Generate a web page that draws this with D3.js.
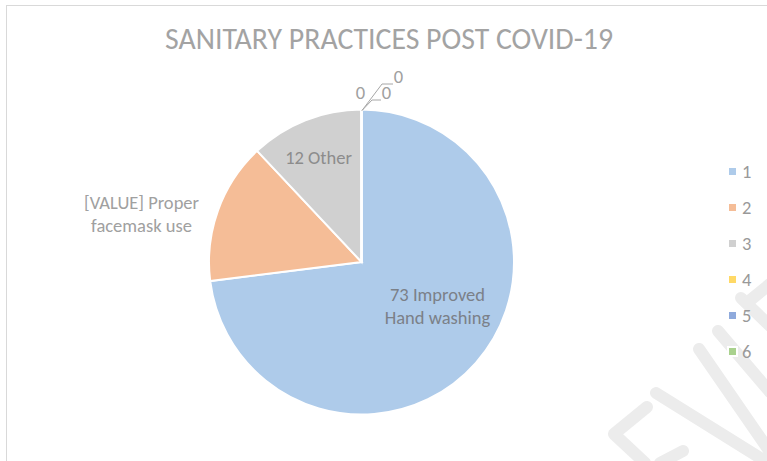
<!DOCTYPE html>
<html lang="en">
<head>
    <meta charset="utf-8">
    <title>Sanitary practices post COVID-19</title>
    <script src="https://cdn.jsdelivr.net/npm/d3@7"></script>
</head>
<style>
    body {
        margin: 0;
        background: #fff;
    }
    svg {
        position: absolute;
        left: 0;
        top: 0;
        font-family: Carlito, Calibri, Lato, sans-serif;
    }
    .watermark {
        stroke: #ececec;
        stroke-width: 12px;
        stroke-linecap: round;
        fill: none;
    }
</style>
<body>
<script type="text/javascript">

    // data
    var categories = ['1', '2', '3', '4', '5', '6'];
    var values = [73, 15, 12, 0, 0, 0];
    var sliceLabels = [
        ['73 Improved', 'Hand washing'],
        ['[VALUE] Proper', 'facemask use'],
        ['12 Other'],
        ['0'], ['0'], ['0']
    ];
    var colorList = ['#aecbea', '#f5bd97', '#d0d0d0', '#ffd966', '#8faadc', '#a9d18e'];

    var width = 767, height = 461;
    var cx = 361.5, cy = 262, radius = 152.5;

    var svg = d3.select('body').append('svg')
        .attr('width', width)
        .attr('height', height);

    // chart frame
    svg.append('rect')
        .attr('x', 6.5)
        .attr('y', 5.5)
        .attr('width', 800)
        .attr('height', 500)
        .attr('fill', 'none')
        .attr('stroke', '#d9d9d9');

    // faint watermark strokes, bottom right
    var wm = [
        [[647, 407], [614, 434], [645, 463]],
        [[660, 463], [683, 451]],
        [[656, 393], [770, 464]],
        [[699, 349], [770, 452]],
        [[718, 331], [770, 392]],
        [[741, 298], [770, 326]],
        [[748, 302], [770, 284]]
    ];
    svg.selectAll('.watermark')
        .data(wm)
        .enter()
        .append('path')
        .attr('class', 'watermark')
        .attr('stroke-linejoin', 'round')
        .attr('d', function (d) {
            return 'M' + d.join('L');
        });

    svg.append('text')
        .attr('x', 389)
        .attr('y', 49)
        .attr('text-anchor', 'middle')
        .attr('fill', '#a3a3a3')
        .style('font-size', '29.8px')
        .text('SANITARY PRACTICES POST COVID-19');

    var pie = d3.pie().sort(null).value(function (d) { return d; });
    var arcs = pie(values);
    var arc = d3.arc().innerRadius(0).outerRadius(radius);

    var g = svg.append('g')
        .attr('transform', 'translate(' + cx + ',' + cy + ')');

    g.selectAll('path.slice')
        .data(arcs)
        .enter()
        .append('path')
        .attr('class', 'slice')
        .attr('d', arc)
        .attr('fill', function (d, i) { return colorList[i]; })
        .attr('stroke', '#fff')
        .attr('stroke-width', 2);

    // label offsets from pie centre (layout only)
    var labelPos = [
        {x: 76, y: 39, fill: '#7b8088'},
        {x: -220, y: -53, fill: '#a0a0a0'},
        {x: -43, y: -98, fill: '#8c8c8c'},
        {x: -1, y: -163, fill: '#a0a0a0'},
        {x: 25, y: -163, fill: '#a0a0a0'},
        {x: 37, y: -179, fill: '#a0a0a0'}
    ];

    sliceLabels.forEach(function (lines, i) {
        var p = labelPos[i];
        var t = g.append('text')
            .attr('text-anchor', 'middle')
            .attr('fill', p.fill)
            .style('font-size', '18.5px');
        lines.forEach(function (line, j) {
            t.append('tspan')
                .attr('x', p.x)
                .attr('y', p.y + j * 23)
                .text(line);
        });
    });

    // leader lines for the zero slices
    var startPt = [0.5, -radius + 1];
    var leaders = [
        [startPt, [10.5, -162], [19.5, -162]],
        [startPt, [20.5, -178], [31.5, -178]]
    ];
    g.selectAll('path.leader')
        .data(leaders)
        .enter()
        .append('path')
        .attr('class', 'leader')
        .attr('d', function (d) { return 'M' + d.join('L'); })
        .attr('fill', 'none')
        .attr('stroke', '#a6a6a6')
        .attr('stroke-width', 1);

    // legend
    var legend = svg.append('g')
        .attr('transform', 'translate(729,172)');
    var item = legend.selectAll('g')
        .data(categories)
        .enter()
        .append('g')
        .attr('transform', function (d, i) { return 'translate(0,' + (i * 36) + ')'; });
    item.append('rect')
        .attr('x', -2)
        .attr('y', -6)
        .attr('width', 11)
        .attr('height', 11)
        .attr('fill', '#fff');
    item.append('rect')
        .attr('x', 0)
        .attr('y', -4)
        .attr('width', 7)
        .attr('height', 7)
        .attr('fill', function (d, i) { return colorList[i]; });
    item.append('text')
        .attr('x', 13)
        .attr('y', 6)
        .attr('fill', '#999')
        .style('font-size', '18.5px')
        .text(function (d) { return d; });

</script>
</body>
</html>
